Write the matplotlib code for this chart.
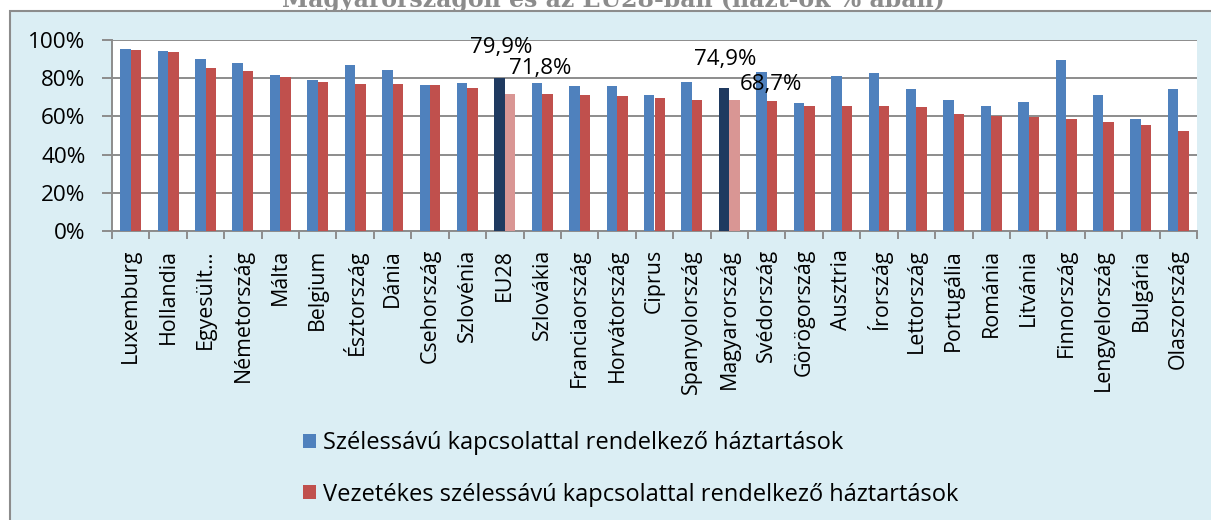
import numpy as np
import matplotlib
matplotlib.use("Agg")
import matplotlib.pyplot as plt
from matplotlib.patches import Rectangle

countries = ["Luxemburg", "Hollandia", "Egyesült…", "Németország", "Málta", "Belgium",
             "Észtország", "Dánia", "Csehország", "Szlovénia", "EU28", "Szlovákia",
             "Franciaország", "Horvátország", "Ciprus", "Spanyolország", "Magyarország",
             "Svédország", "Görögország", "Ausztria", "Írország", "Lettország",
             "Portugália", "Románia", "Litvánia", "Finnország", "Lengyelország",
             "Bulgária", "Olaszország"]
broadband = [95.1, 94.1, 90.0, 87.9, 81.6, 79.2, 86.9, 84.3, 76.4, 77.6, 79.9, 77.6,
             76.0, 75.7, 71.2, 77.8, 74.9, 83.0, 67.0, 81.1, 82.7, 74.3, 68.5, 65.4,
             67.3, 89.5, 71.0, 58.6, 74.1]
fixed = [94.6, 93.7, 85.5, 83.7, 80.4, 78.0, 77.1, 76.9, 76.4, 74.7, 71.8, 71.7,
         71.0, 70.5, 69.4, 68.7, 68.7, 68.0, 65.7, 65.4, 65.4, 64.7, 61.2, 60.3,
         59.8, 58.6, 57.3, 55.4, 52.6]
highlight = ["EU28", "Magyarország"]
yticks = [0, 20, 40, 60, 80, 100]
legend_labels = ["Szélessávú kapcsolattal rendelkező háztartások",
                 "Vezetékes szélessávú kapcsolattal rendelkező háztartások"]
title = "Magyarországon és az EU28-ban (házt-ok % ában)"

BLUE, RED = "#4F81BD", "#C0504D"
DBLUE, LRED = "#1F3A60", "#D99694"
BG = "#DBEEF4"
GRID = "#8C8C8C"
FONT = ["Open Sans", "DejaVu Sans"]

fig = plt.figure(figsize=(12.11, 5.20), dpi=100)
fig.patch.set_facecolor("white")
fig.patches.append(Rectangle((10.5 / 1211, -0.05), 1.2, 1 - 10.5 / 520 + 0.05,
                             transform=fig.transFigure, facecolor=BG,
                             edgecolor=GRID, linewidth=1.5, zorder=-10))
fig.text(613 / 1211, 1 - 7 / 520, title, ha="center", va="baseline",
         fontsize=17, fontweight="bold", family="DejaVu Serif", color="#8C8C8C")

ax = fig.add_axes([112 / 1211, 1 - 231 / 520, 1085 / 1211, 191 / 520])
ax.set_facecolor("white")

x = np.arange(len(countries))
w = 0.28
bcol = [DBLUE if c in highlight else BLUE for c in countries]
rcol = [LRED if c in highlight else RED for c in countries]
b1 = ax.bar(x - w / 2, broadband, w, color=bcol, zorder=3, label=legend_labels[0])
b2 = ax.bar(x + w / 2, fixed, w, color=rcol, zorder=3, label=legend_labels[1])

# manual data labels (Excel positions)
offsets = {("EU28", 0): (2, 25), ("EU28", 1): (30, 20),
           ("Magyarország", 0): (1, 23), ("Magyarország", 1): (36, 10)}
for (name, s), (dx, dy) in offsets.items():
    i = countries.index(name)
    xv = x[i] - w / 2 if s == 0 else x[i] + w / 2
    v = broadband[i] if s == 0 else fixed[i]
    ax.annotate(f"{v:.1f}%".replace(".", ","), (xv, v), xytext=(dx, dy),
                textcoords="offset pixels", ha="center", va="baseline",
                fontsize=16, family=FONT, color="black", zorder=5)

ax.set_xlim(-0.5, len(countries) - 0.5)
ax.set_ylim(0, 100)
ax.set_yticks(yticks)
ax.set_yticklabels([f"{t}%" for t in yticks], family=FONT, fontsize=16.2)
ax.yaxis.grid(True, color=GRID, linewidth=1.4, zorder=0)
ax.set_axisbelow(True)

ax.set_xticks(x)
ax.set_xticklabels(countries, rotation=90, family=FONT, fontsize=15.4)
ax.set_xticks(np.arange(len(countries) + 1) - 0.5, minor=True)
ax.tick_params(axis="x", which="major", length=0, pad=13)
ax.tick_params(axis="x", which="minor", length=6, width=1.4, color=GRID)
ax.tick_params(axis="y", length=7, width=1.4, color=GRID, pad=12)

for sp in ["top", "right"]:
    ax.spines[sp].set_visible(False)
for sp in ["left", "bottom"]:
    ax.spines[sp].set_color(GRID)
    ax.spines[sp].set_linewidth(1.4)

fig.legend(handles=[b1, b2], labels=legend_labels, loc="center left",
           bbox_to_anchor=(282 / 1211, 1 - 469 / 520), frameon=False,
           prop={"family": FONT, "size": 17},
           handlelength=0.55, handleheight=0.55, handletextpad=0.3, labelspacing=1.15)

fig.savefig("out.png", dpi=100)
